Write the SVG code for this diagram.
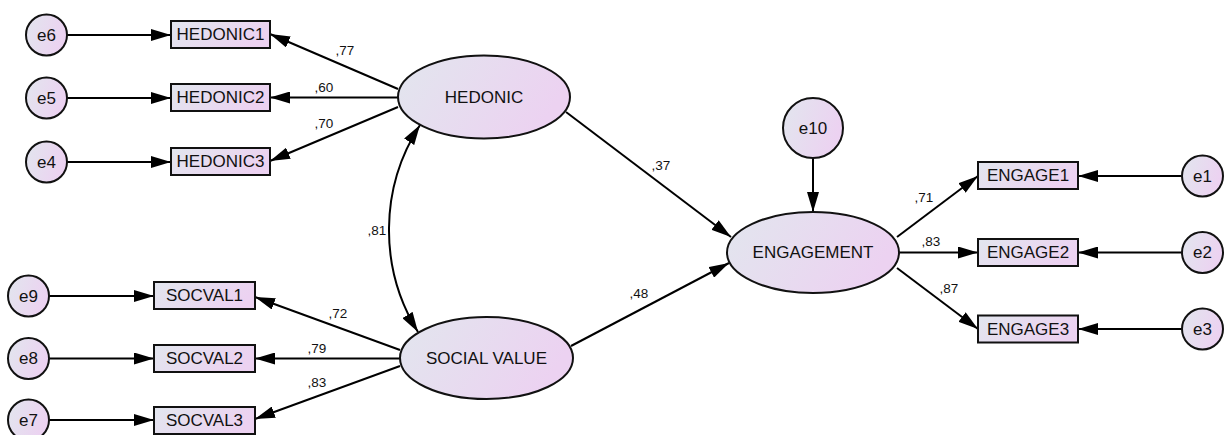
<svg xmlns="http://www.w3.org/2000/svg" width="1224" height="435" viewBox="0 0 1224 435">
<defs>
<linearGradient id="g" x1="0" y1="0" x2="1" y2="0.3">
<stop offset="0" stop-color="#e2e6ee"/>
<stop offset="1" stop-color="#ecd2f1"/>
</linearGradient>
<marker id="ah" viewBox="0 0 20 12" refX="20" refY="6" markerWidth="20" markerHeight="12" markerUnits="userSpaceOnUse" orient="auto-start-reverse">
<path d="M0,0 L20,6 L0,12 z" fill="#000"/>
</marker>
<style>
.n{fill:url(#g);stroke:#111;stroke-width:2}
.t{font-family:"Liberation Sans",Arial,sans-serif;font-size:17px;fill:#111;text-anchor:middle;dominant-baseline:central}
.l{font-family:"Liberation Sans",Arial,sans-serif;font-size:13.5px;fill:#111;text-anchor:middle}
.c{stroke:#000;stroke-width:2;fill:none;marker-end:url(#ah)}
.d{stroke:#000;stroke-width:2;fill:none;marker-end:url(#ah);marker-start:url(#ah)}
</style>
</defs>
<g id="connectors">
<line class="c" x1="67" y1="35" x2="171" y2="35"/>
<line class="c" x1="67" y1="98" x2="171" y2="98"/>
<line class="c" x1="67" y1="162" x2="171" y2="162"/>
<line class="c" x1="49" y1="296" x2="154" y2="296"/>
<line class="c" x1="49" y1="358.5" x2="154" y2="358.5"/>
<line class="c" x1="49" y1="420" x2="154" y2="420"/>
<line class="c" x1="398" y1="89" x2="270" y2="34"/>
<line class="c" x1="398" y1="97.5" x2="270" y2="97.5"/>
<line class="c" x1="398" y1="107" x2="270" y2="161"/>
<line class="c" x1="400" y1="350" x2="255" y2="297"/>
<line class="c" x1="400" y1="358.5" x2="255" y2="358.5"/>
<line class="c" x1="400" y1="366" x2="255" y2="419"/>
<line class="c" x1="566" y1="112" x2="731" y2="237"/>
<line class="c" x1="571" y1="346" x2="729" y2="263"/>
<line class="c" x1="813" y1="158" x2="813" y2="212"/>
<line class="c" x1="897" y1="237" x2="978" y2="176"/>
<line class="c" x1="899" y1="252.5" x2="978" y2="252.5"/>
<line class="c" x1="897" y1="268" x2="978" y2="329"/>
<line class="c" x1="1182" y1="176" x2="1078" y2="176"/>
<line class="c" x1="1182" y1="252.5" x2="1078" y2="252.5"/>
<line class="c" x1="1182" y1="329" x2="1078" y2="329"/>
<path class="d" d="M418,332 A193.5,193.5 0 0 1 420,125"/>
</g>
<g id="labels">
<text class="l" x="345" y="55">,77</text>
<text class="l" x="324" y="92">,60</text>
<text class="l" x="324" y="128">,70</text>
<text class="l" x="377" y="235">,81</text>
<text class="l" x="338" y="318">,72</text>
<text class="l" x="317" y="353">,79</text>
<text class="l" x="317" y="387">,83</text>
<text class="l" x="661" y="170">,37</text>
<text class="l" x="639" y="298">,48</text>
<text class="l" x="924" y="202">,71</text>
<text class="l" x="931" y="246">,83</text>
<text class="l" x="949" y="293">,87</text>
</g>
<g id="e6"><circle class="n" cx="46.5" cy="35" r="20.5"/><text class="t" x="46.5" y="35">e6</text></g>
<g id="e5"><circle class="n" cx="46.5" cy="98" r="20.5"/><text class="t" x="46.5" y="98">e5</text></g>
<g id="e4"><circle class="n" cx="46.5" cy="162" r="20.5"/><text class="t" x="46.5" y="162">e4</text></g>
<g id="e9"><circle class="n" cx="28.5" cy="296" r="20.5"/><text class="t" x="28.5" y="296">e9</text></g>
<g id="e8"><circle class="n" cx="28.5" cy="358.5" r="20.5"/><text class="t" x="28.5" y="358.5">e8</text></g>
<g id="e7"><circle class="n" cx="28.5" cy="420" r="20.5"/><text class="t" x="28.5" y="420">e7</text></g>
<g id="HEDONIC1"><rect class="n" x="171" y="21" width="99" height="27"/><text class="t" x="220.5" y="34.5">HEDONIC1</text></g>
<g id="HEDONIC2"><rect class="n" x="171" y="84" width="99" height="27"/><text class="t" x="220.5" y="97.5">HEDONIC2</text></g>
<g id="HEDONIC3"><rect class="n" x="171" y="148" width="99" height="27"/><text class="t" x="220.5" y="161.5">HEDONIC3</text></g>
<g id="SOCVAL1"><rect class="n" x="154" y="282" width="101" height="27"/><text class="t" x="204.5" y="295.5">SOCVAL1</text></g>
<g id="SOCVAL2"><rect class="n" x="154" y="345" width="101" height="27"/><text class="t" x="204.5" y="358.5">SOCVAL2</text></g>
<g id="SOCVAL3"><rect class="n" x="154" y="407" width="101" height="27"/><text class="t" x="204.5" y="420.5">SOCVAL3</text></g>
<g id="HEDONIC"><ellipse class="n" cx="484" cy="97" rx="86" ry="41.5"/><text class="t" x="484" y="97">HEDONIC</text></g>
<g id="SOCIAL_VALUE"><ellipse class="n" cx="486.5" cy="358" rx="86.5" ry="41"/><text class="t" x="486.5" y="358">SOCIAL VALUE</text></g>
<g id="ENGAGEMENT"><ellipse class="n" cx="813" cy="252.5" rx="86" ry="40.5"/><text class="t" x="813" y="252.5">ENGAGEMENT</text></g>
<g id="e10"><circle class="n" cx="813" cy="128" r="30"/><text class="t" x="813" y="128">e10</text></g>
<g id="ENGAGE1"><rect class="n" x="978" y="162" width="100" height="27"/><text class="t" x="1028" y="175.5">ENGAGE1</text></g>
<g id="ENGAGE2"><rect class="n" x="978" y="239" width="100" height="27"/><text class="t" x="1028" y="252.5">ENGAGE2</text></g>
<g id="ENGAGE3"><rect class="n" x="978" y="315.5" width="100" height="27"/><text class="t" x="1028" y="329">ENGAGE3</text></g>
<g id="e1"><circle class="n" cx="1202.5" cy="176" r="20.5"/><text class="t" x="1202.5" y="176">e1</text></g>
<g id="e2"><circle class="n" cx="1202.5" cy="252.5" r="20.5"/><text class="t" x="1202.5" y="252.5">e2</text></g>
<g id="e3"><circle class="n" cx="1202.5" cy="329" r="20.5"/><text class="t" x="1202.5" y="329">e3</text></g>
</svg>
